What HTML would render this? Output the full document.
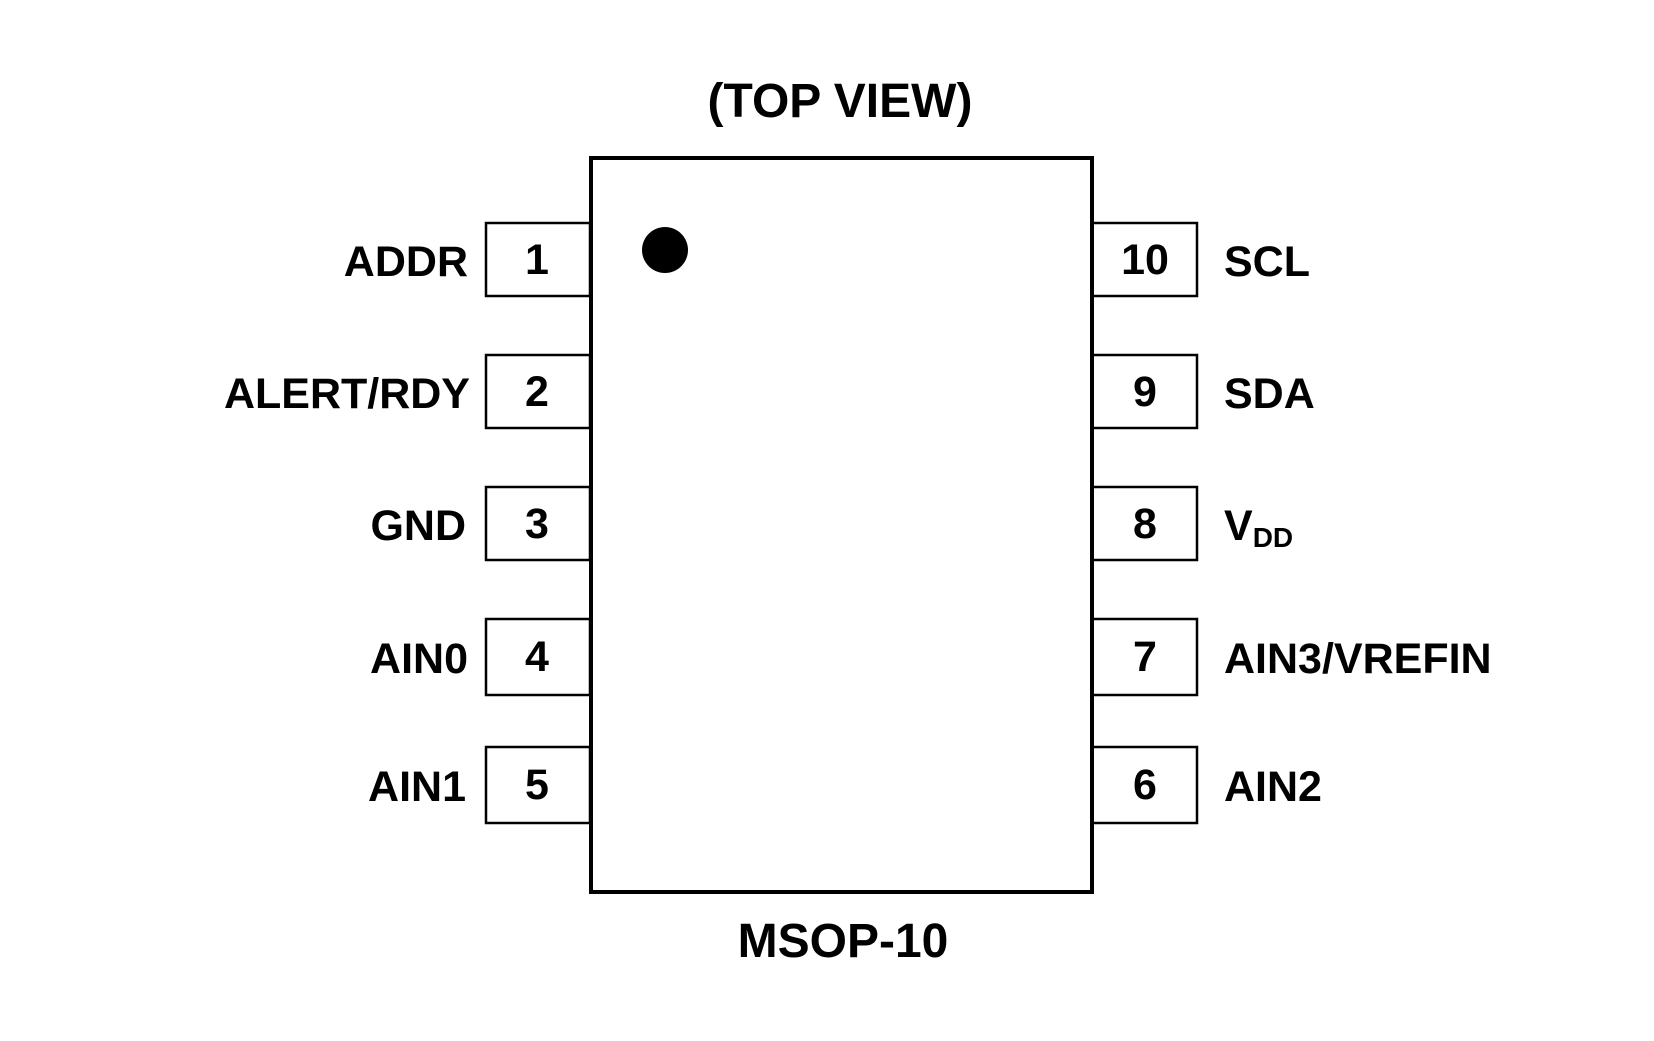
<!DOCTYPE html>
<html><head><style>body{margin:0;background:#fff}</style></head><body>
<svg width="1654" height="1036" xmlns="http://www.w3.org/2000/svg" font-family="Liberation Sans, sans-serif" font-weight="bold" font-size="43">
<rect x="0" y="0" width="1654" height="1036" fill="#fff"/>
<g fill="none" stroke="#000" stroke-width="2.5">
<rect x="486" y="223" width="104" height="73"/>
<rect x="486" y="355" width="104" height="73"/>
<rect x="486" y="487" width="104" height="73"/>
<rect x="486" y="619" width="104" height="76"/>
<rect x="486" y="747" width="104" height="76"/>
<rect x="1092" y="223" width="105" height="73"/>
<rect x="1092" y="355" width="105" height="73"/>
<rect x="1092" y="487" width="105" height="73"/>
<rect x="1092" y="619" width="105" height="76"/>
<rect x="1092" y="747" width="105" height="76"/>
</g>
<rect x="591" y="158" width="501" height="734" fill="#fff" stroke="#000" stroke-width="4"/>
<circle cx="665" cy="250" r="23" fill="#000"/>
<text x="840" y="117" text-anchor="middle" font-size="48">(TOP VIEW)</text>
<text x="843" y="957" text-anchor="middle" font-size="48">MSOP-10</text>
<g text-anchor="middle">
<text x="537" y="274">1</text><text x="537" y="406">2</text><text x="537" y="538">3</text><text x="537" y="671">4</text><text x="537" y="799">5</text>
<text x="1145" y="274">10</text><text x="1145" y="406">9</text><text x="1145" y="538">8</text><text x="1145" y="671">7</text><text x="1145" y="799">6</text>
</g>
<g text-anchor="end">
<text x="468" y="276">ADDR</text><text x="470" y="408">ALERT/RDY</text><text x="466" y="540">GND</text><text x="468" y="673">AIN0</text><text x="466" y="801">AIN1</text>
</g>
<text x="1224" y="276">SCL</text><text x="1224" y="408">SDA</text>
<text x="1224" y="540">V<tspan font-size="28" dy="7">DD</tspan></text>
<text x="1224" y="673">AIN3/VREFIN</text><text x="1224" y="801">AIN2</text>
</svg>
</body></html>
